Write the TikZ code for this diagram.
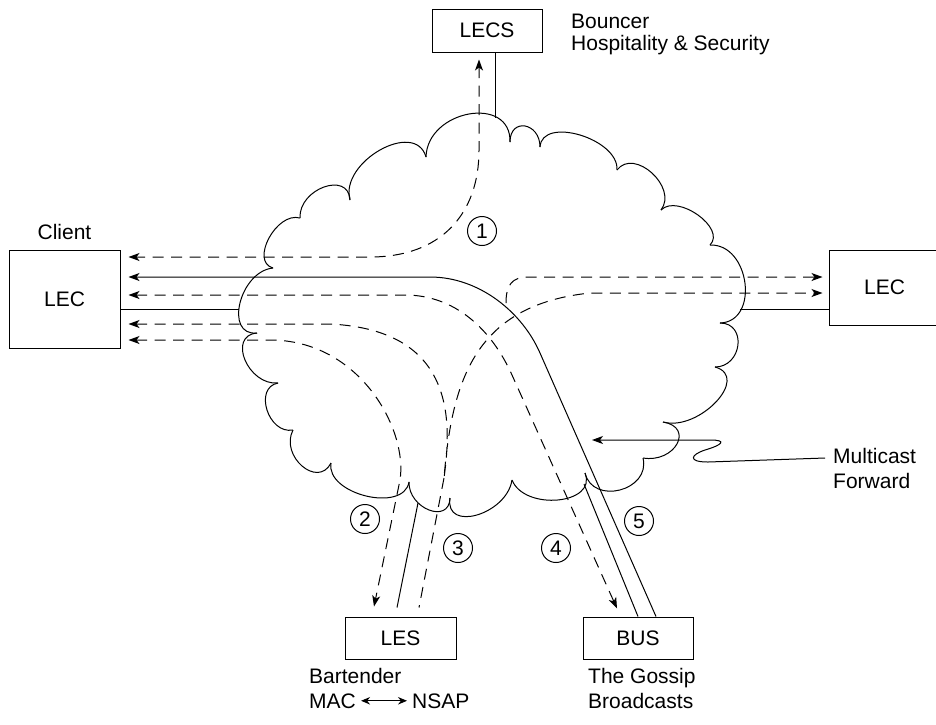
\documentclass[tikz,border=0pt]{standalone}
\usepackage{fontspec}
\setmainfont{Liberation Sans}
\usetikzlibrary{arrows.meta,calc}
\begin{document}
\begin{tikzpicture}[x=1pt,y=-1pt,
  ln/.style={line width=1pt},
  dsh/.style={line width=1pt,dash pattern=on 11pt off 7.5pt},
  >={Stealth[length=11pt,width=8pt,inset=3pt]},
  lbl/.style={font=\fontsize{21}{24}\selectfont,inner sep=0pt},
  boxn/.style={draw,line width=1pt,inner sep=0pt,font=\fontsize{21}{24}\selectfont},
  num/.style={circle,draw,line width=1pt,minimum size=29pt,inner sep=0pt,font=\fontsize{21}{24}\selectfont}]
\useasboundingbox (0,0) rectangle (936,724);

% ---------- boxes ----------
\node[boxn,minimum width=110pt,minimum height=43pt] (lecs) at (487,30.5) {LECS};
\node[boxn,minimum width=111pt,minimum height=98pt] (lecL) at (64.5,299) {LEC};
\node[boxn,minimum width=111pt,minimum height=75pt] (lecR) at (884.5,287.5) {LEC};
\node[boxn,minimum width=111pt,minimum height=42pt] (les) at (400.5,638) {LES};
\node[boxn,minimum width=110pt,minimum height=42pt] (bus) at (638,638) {BUS};

% ---------- labels ----------
\node[lbl,anchor=base west] (bnc) at (571,28) {Bouncer};
\node[lbl,anchor=base west] (hos) at (571,50) {Hospitality \& Security};
\node[lbl,anchor=base] (cli) at (64.5,239) {Client};
\node[lbl,anchor=base west] (mul) at (833,463) {Multicast};
\node[lbl,anchor=base west] (fwd) at (833,488) {Forward};
\node[lbl,anchor=base west] (bar) at (309,683) {Bartender};
\node[lbl,anchor=base west] (mac) at (309,708) {MAC};
\node[lbl,anchor=base west] (nsap) at (412,708) {NSAP};
\node[lbl,anchor=base west] (gos) at (588,683) {The Gossip};
\node[lbl,anchor=base west] (brd) at (588,708) {Broadcasts};
\draw[ln,{Stealth[length=9pt,width=7.5pt]}-{Stealth[length=9pt,width=7.5pt]}]
  ([xshift=5pt]mac.east) -- ([xshift=-5pt]nsap.west);

% ---------- circled numbers ----------
\node[num] (n1) at (482,231) {1};
\node[num] (n2) at (365,519) {2};
\node[num] (n3) at (458,548) {3};
\node[num] (n4) at (556,548) {4};
\node[num] (n5) at (639,521) {5};

% ---------- cloud ----------
\coordinate (k1) at (350,200);  \coordinate (q1) at (380,150);
\coordinate (k2) at (426,157);  \coordinate (q2) at (469,114);
\coordinate (k3) at (510,142);  \coordinate (q3) at (525,126);
\coordinate (k4) at (540,147);  \coordinate (q4) at (580,135);
\coordinate (k5) at (617,170);  \coordinate (q5) at (652,173);
\coordinate (k6) at (661,210);  \coordinate (q6) at (698,215);
\coordinate (k7) at (710,245);  \coordinate (q7) at (745,283);
\coordinate (k8) at (720,323);  \coordinate (q8) at (738,345);
\coordinate (k9) at (715,367);  \coordinate (q9) at (716,402);
\coordinate (k10) at (663,422); \coordinate (q10) at (677,444);
\coordinate (k11) at (643,458); \coordinate (q11) at (620,490);
\coordinate (k12) at (585,473); \coordinate (q12) at (558,500);
\coordinate (k13) at (512,480); \coordinate (q13) at (477,515);
\coordinate (k14) at (450,498); \coordinate (q14) at (429,510);
\coordinate (k15) at (409,482); \coordinate (q15) at (366,496);
\coordinate (k16) at (331,463); \coordinate (q16) at (302,466);
\coordinate (k17) at (293,430); \coordinate (q17) at (267,410);
\coordinate (k18) at (278,383); \coordinate (q18) at (245,360);
\coordinate (k19) at (257,333); \coordinate (q19) at (240,303);
\coordinate (k20) at (273,268); \coordinate (q20) at (269,238);
\coordinate (k21) at (300,218); \coordinate (q21) at (324,187);
\foreach \i/\j in {1/2,2/3,3/4,4/5,5/6,6/7,7/8,8/9,9/10,10/11,11/12,12/13,13/14,14/15,15/16,16/17,17/18,18/19,19/20,20/21,21/1}
  {\draw[ln] (k\i) .. controls ($0.3333*(k\i)+1.3333*(q\i)-0.6667*(k\j)$) and ($0.3333*(k\j)+1.3333*(q\i)-0.6667*(k\i)$) .. (k\j);}

% attach points on the cloud
\coordinate (cTop) at (495,118);
\coordinate (cL) at (239,309);
\coordinate (cR) at (740,309);
\coordinate (cLES) at (418,503);
\coordinate (cBUS) at (584,484);

% ---------- solid links ----------
\draw[ln] (lecs.south -| cTop) -- (cTop);
\draw[ln] (lecL.east |- cL) -- (cL);
\draw[ln] (cR) -- (lecR.west |- cR);
\coordinate (lesA) at ([xshift=-3.5pt,yshift=9pt]les.north);
\draw[ln] (cLES) -- (lesA);
\draw[ln] (cBUS) -- (bus.north);

% ---------- end points of the flows ----------
\coordinate (lecsIn) at ([xshift=-8pt,yshift=-7pt]lecs.south);
\coordinate (L1) at ([xshift=8pt]lecL.east |- 0,257);
\coordinate (L2) at ([xshift=8pt]lecL.east |- 0,277);
\coordinate (L3) at ([xshift=8pt]lecL.east |- 0,295);
\coordinate (L4) at ([xshift=8pt]lecL.east |- 0,324);
\coordinate (L5) at ([xshift=8pt]lecL.east |- 0,340);
\coordinate (R1) at ([xshift=-6pt]lecR.west |- 0,277);
\coordinate (R2) at ([xshift=-6pt]lecR.west |- 0,293);
\coordinate (lesIn) at ([xshift=-26.5pt,yshift=10pt]les.north);
\coordinate (lesOut) at ([xshift=18.5pt,yshift=9pt]les.north);
\coordinate (busIn) at ([xshift=-21pt,yshift=8pt]bus.north);
\coordinate (busOut) at ([xshift=18pt]bus.north);
\coordinate (J) at (444,478);

% 5: multicast forward (solid)
\draw[ln,->] (busOut) -- (540,353) .. controls (522.6,313) and (480,277) .. (430,277) -- (L2);
% 1: LECS
\draw[dsh,<->] (lecsIn) -- (479,150) .. controls (479,215) and (440,257) .. (370,257) -- (L1);
% 2: LES in
\draw[dsh,<->] (L5) -- (270,340) .. controls (360,340) and (408,430) .. (400,480) -- (lesIn);
% 3: LES out, two branches
\draw[dsh,<->] (L4) -- (330,324) .. controls (455,330) and (452,420) .. (J)
  .. controls (452,380) and (475,305) .. (590,293) -- (R2);
\draw[dsh] (J) -- (lesOut);
% 4: BUS
\draw[dsh,<->] (L3) -- (405,295) .. controls (455,295) and (491.5,329.4) .. (512,375) -- (busIn);
% upper right flow
\draw[dsh,->] (506,303) .. controls (506,285) and (512,277) .. (528,277) -- (R1);

% ---------- multicast forward pointer ----------
\coordinate (mfA) at (825,458);
\coordinate (mfB) at (592,440);
\draw[ln,->] (mfA) -- (708,462) .. controls (688,462) and (690,455) .. (705,450)
  .. controls (722,445) and (728,440) .. (710,440) -- (mfB);
\end{tikzpicture}
\end{document}
